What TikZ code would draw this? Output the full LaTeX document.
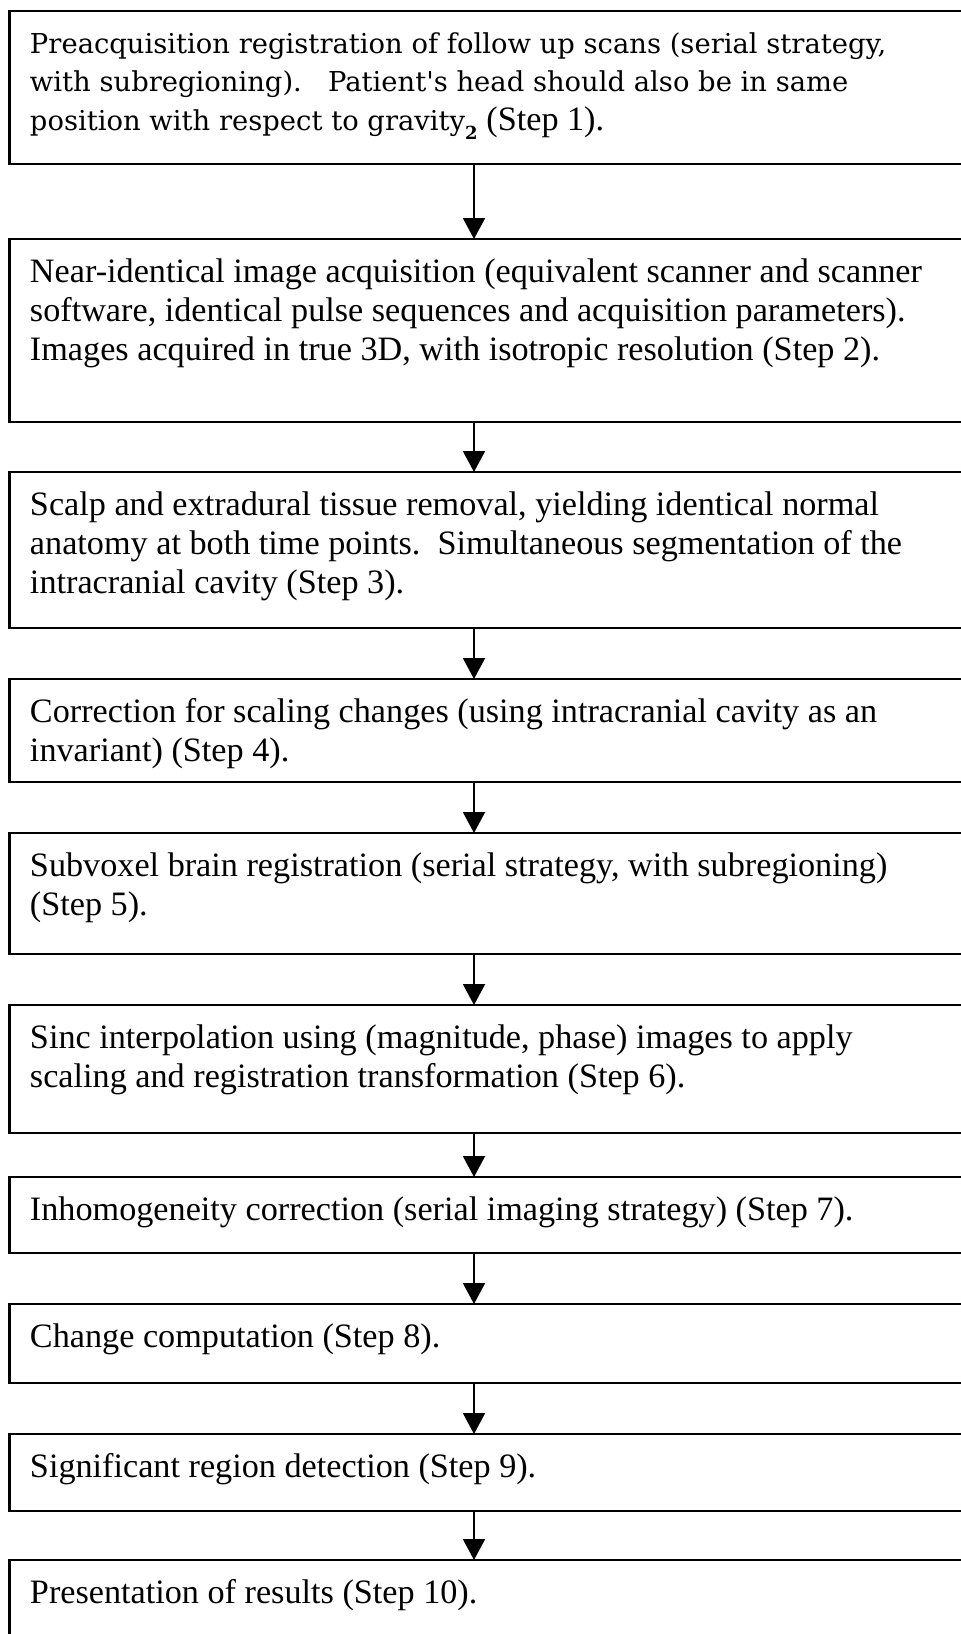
\documentclass[tikz,border=0pt]{standalone}
\usepackage{fontspec}
\setmainfont{Liberation Serif}
\newfontfamily\slabfont{DejaVu Serif}
\usetikzlibrary{arrows.meta,positioning}
\newcommand{\steptext}[2]{\parbox[c][#1][t]{457.5pt}{\raggedright\fontsize{17.1pt}{19.5pt}\selectfont\rule{0pt}{21.5pt}#2}}
\tikzset{
  stepbox/.style={draw=black,fill=white,line width=1.2pt,outer sep=0pt,inner xsep=10.25pt,inner ysep=0pt,align=left},
  flow/.style={-{Triangle[length=10.5pt,width=11pt]},draw=black,line width=1pt}
}
\begin{document}
\begin{tikzpicture}[node distance=25.5pt]
  \useasboundingbox[fill=white] (0,0) rectangle (480pt,-817pt);
  \coordinate (spine) at (237pt,0);
  \node[stepbox,anchor=north west] (s1) at (4.75pt,-5.5pt) {\parbox[c][76.5pt][t]{457.5pt}{\raggedright\slabfont\fontsize{13.7pt}{19.25pt}\selectfont\rule{0pt}{21pt}Preacquisition registration of follow up scans (serial strategy,\\ with subregioning).\ \ \ Patient\textquotesingle s head should also be in same\\ position with respect to gravity\raisebox{-4.5pt}{\fontsize{9pt}{9pt}\selectfont\bfseries 2} {\rmfamily\fontsize{17.1pt}{19.5pt}\selectfont (Step 1).}}};
  \node[stepbox,below=37.5pt of s1] (s2) {\steptext{91.5pt}{Near-identical image acquisition (equivalent scanner and scanner\\ software, identical pulse sequences and acquisition parameters).\\ Images acquired in true 3D, with isotropic resolution (Step 2).}};
  \node[stepbox,below=25pt of s2] (s3) {\steptext{78pt}{Scalp and extradural tissue removal, yielding identical normal\\ anatomy at both time points.\ \ Simultaneous segmentation of the\\ intracranial cavity (Step 3).}};
  \node[stepbox,below=of s3] (s4) {\steptext{51.5pt}{Correction for scaling changes (using intracranial cavity as an\\ invariant) (Step 4).}};
  \node[stepbox,below=of s4] (s5) {\steptext{60.5pt}{Subvoxel brain registration (serial strategy, with subregioning)\\ (Step 5).}};
  \node[stepbox,below=of s5] (s6) {\steptext{64pt}{Sinc interpolation using (magnitude, phase) images to apply\\ scaling and registration transformation (Step 6).}};
  \node[stepbox,below=22pt of s6] (s7) {\steptext{38pt}{Inhomogeneity correction (serial imaging strategy) (Step 7).}};
  \node[stepbox,below=of s7] (s8) {\steptext{39.5pt}{Change computation (Step 8).}};
  \node[stepbox,below=of s8] (s9) {\steptext{38.5pt}{Significant region detection (Step 9).}};
  \node[stepbox,below=24.5pt of s9] (s10) {\steptext{50pt}{Presentation of results (Step 10).}};
  \draw[flow] (s1.south -| spine) -- (s2.north -| spine);
  \draw[flow] (s2.south -| spine) -- (s3.north -| spine);
  \draw[flow] (s3.south -| spine) -- (s4.north -| spine);
  \draw[flow] (s4.south -| spine) -- (s5.north -| spine);
  \draw[flow] (s5.south -| spine) -- (s6.north -| spine);
  \draw[flow] (s6.south -| spine) -- (s7.north -| spine);
  \draw[flow] (s7.south -| spine) -- (s8.north -| spine);
  \draw[flow] (s8.south -| spine) -- (s9.north -| spine);
  \draw[flow] (s9.south -| spine) -- (s10.north -| spine);
\end{tikzpicture}
\end{document}
